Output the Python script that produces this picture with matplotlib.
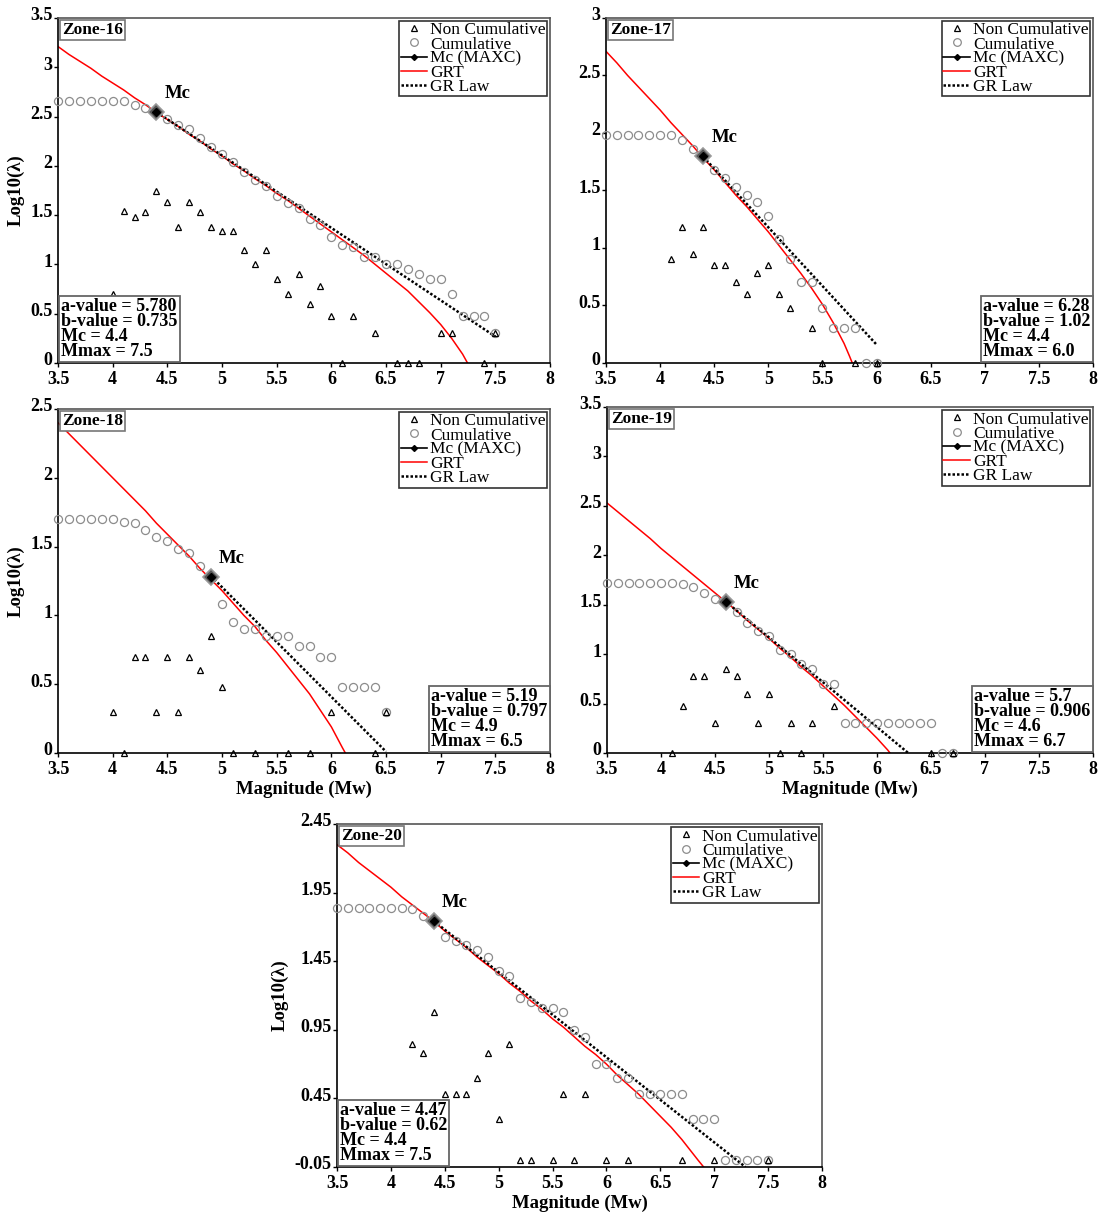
import matplotlib
matplotlib.use("Agg")
import matplotlib.pyplot as plt
import matplotlib.transforms as mtransforms
from matplotlib.lines import Line2D

plt.rcParams["font.family"] = ["Liberation Serif", "DejaVu Serif"]

MAGS = [3.5, 3.6, 3.7, 3.8, 3.9, 4.0, 4.1, 4.2, 4.3, 4.4, 4.5, 4.6, 4.7, 4.8,
        4.9, 5.0, 5.1, 5.2, 5.3, 5.4, 5.5, 5.6, 5.7, 5.8, 5.9, 6.0, 6.1, 6.2,
        6.3, 6.4, 6.5, 6.6, 6.7, 6.8, 6.9, 7.0, 7.1, 7.2, 7.3, 7.4, 7.5]

# ---- Zone-16
CUM_16 = [2.66, 2.66, 2.66, 2.66, 2.66, 2.66, 2.66, 2.62, 2.59, 2.55, 2.48,
          2.41, 2.37, 2.28, 2.19, 2.12, 2.04, 1.94, 1.86, 1.80, 1.69, 1.62,
          1.57, 1.46, 1.40, 1.28, 1.20, 1.18, 1.08, 1.08, 1.00, 1.00, 0.95,
          0.90, 0.85, 0.85, 0.70, 0.48, 0.48, 0.48, 0.30]
NC_MAG_16 = [4.0, 4.1, 4.2, 4.3, 4.4, 4.5, 4.6, 4.7, 4.8, 4.9, 5.0, 5.1, 5.2,
             5.3, 5.4, 5.5, 5.6, 5.7, 5.8, 5.9, 6.0, 6.1, 6.2, 6.4, 6.6, 6.7,
             6.8, 7.0, 7.1, 7.4, 7.5]
NC_16 = [0.70, 1.54, 1.48, 1.53, 1.74, 1.63, 1.38, 1.63, 1.53, 1.38, 1.34,
         1.34, 1.15, 1.00, 1.15, 0.85, 0.70, 0.90, 0.60, 0.78, 0.48, 0.0,
         0.48, 0.30, 0.0, 0.0, 0.0, 0.30, 0.30, 0.0, 0.30]
GRT_X_16 = MAGS[:38] + [7.245]
GRT_16 = [3.21, 3.13, 3.06, 2.99, 2.91, 2.84, 2.77, 2.69, 2.62, 2.54, 2.47,
          2.40, 2.32, 2.25, 2.17, 2.10, 2.02, 1.95, 1.87, 1.80, 1.72, 1.65,
          1.57, 1.49, 1.41, 1.33, 1.25, 1.17, 1.09, 1.00, 0.91, 0.82, 0.73,
          0.62, 0.51, 0.39, 0.25, 0.09, 0.0]
GR_X_16 = [4.4, 7.5]
GR_16 = [2.546, 0.268]
MC_16 = (4.4, 2.55)
STATS_16 = ["a-value = 5.780", "b-value = 0.735", "Mc = 4.4", "Mmax = 7.5"]

# ---- Zone-17
CUM_17 = [1.98, 1.98, 1.98, 1.98, 1.98, 1.98, 1.98, 1.94, 1.86, 1.80, 1.68,
          1.61, 1.53, 1.46, 1.40, 1.28, 1.08, 0.90, 0.70, 0.70, 0.48, 0.30,
          0.30, 0.30, 0.0, 0.0]
NC_MAG_17 = [4.1, 4.2, 4.3, 4.4, 4.5, 4.6, 4.7, 4.8, 4.9, 5.0, 5.1, 5.2, 5.4,
             5.5, 5.8, 6.0]
NC_17 = [0.90, 1.18, 0.95, 1.18, 0.85, 0.85, 0.70, 0.60, 0.78, 0.85, 0.60,
         0.48, 0.30, 0.0, 0.0, 0.0]
GRT_X_17 = MAGS[:23] + [5.75, 5.776]
GRT_17 = [2.71, 2.61, 2.50, 2.40, 2.30, 2.20, 2.09, 1.99, 1.89, 1.78, 1.68,
          1.57, 1.46, 1.36, 1.25, 1.14, 1.02, 0.90, 0.78, 0.65, 0.51, 0.35,
          0.17, 0.06, 0.0]
GR_X_17 = [4.4, 6.0]
GR_17 = [1.792, 0.160]
MC_17 = (4.4, 1.80)
STATS_17 = ["a-value = 6.28", "b-value = 1.02", "Mc = 4.4", "Mmax = 6.0"]

# ---- Zone-18
CUM_18 = [1.70, 1.70, 1.70, 1.70, 1.70, 1.70, 1.68, 1.67, 1.62, 1.57, 1.54,
          1.48, 1.45, 1.36, 1.28, 1.08, 0.95, 0.90, 0.90, 0.85, 0.85, 0.85,
          0.78, 0.78, 0.70, 0.70, 0.48, 0.48, 0.48, 0.48, 0.30]
NC_MAG_18 = [4.0, 4.1, 4.2, 4.3, 4.4, 4.5, 4.6, 4.7, 4.8, 4.9, 5.0, 5.1, 5.3,
             5.6, 5.8, 6.0, 6.4, 6.5]
NC_18 = [0.30, 0.0, 0.70, 0.70, 0.30, 0.70, 0.30, 0.70, 0.60, 0.85, 0.48,
         0.0, 0.0, 0.0, 0.0, 0.30, 0.0, 0.30]
GRT_X_18 = MAGS[:27] + [6.128]
GRT_18 = [2.40, 2.32, 2.24, 2.16, 2.08, 2.00, 1.92, 1.84, 1.76, 1.67, 1.59,
          1.51, 1.43, 1.34, 1.26, 1.18, 1.09, 1.00, 0.92, 0.82, 0.73, 0.63,
          0.53, 0.43, 0.31, 0.19, 0.04, 0.0]
GR_X_18 = [4.9, 6.5]
GR_18 = [1.285, 0.010]
MC_18 = (4.9, 1.28)
STATS_18 = ["a-value = 5.19", "b-value = 0.797", "Mc = 4.9", "Mmax = 6.5"]

# ---- Zone-19
CUM_19 = [1.72, 1.72, 1.72, 1.72, 1.72, 1.72, 1.72, 1.71, 1.68, 1.62, 1.56,
          1.53, 1.43, 1.32, 1.23, 1.18, 1.04, 1.00, 0.90, 0.85, 0.70, 0.70,
          0.30, 0.30, 0.30, 0.30, 0.30, 0.30, 0.30, 0.30, 0.30, 0.0, 0.0]
NC_MAG_19 = [4.1, 4.2, 4.3, 4.4, 4.5, 4.6, 4.7, 4.8, 4.9, 5.0, 5.1, 5.2, 5.3,
             5.4, 5.6, 6.5, 6.7]
NC_19 = [0.0, 0.48, 0.78, 0.78, 0.30, 0.85, 0.78, 0.60, 0.30, 0.60, 0.0,
         0.30, 0.0, 0.30, 0.48, 0.0, 0.0]
GRT_X_19 = MAGS[:27] + [6.121]
GRT_19 = [2.53, 2.44, 2.35, 2.26, 2.17, 2.07, 1.98, 1.89, 1.80, 1.71, 1.62,
          1.53, 1.44, 1.34, 1.25, 1.16, 1.06, 0.97, 0.87, 0.78, 0.68, 0.58,
          0.48, 0.37, 0.26, 0.15, 0.03, 0.0]
GR_X_19 = [4.6, 6.29]
GR_19 = [1.532, 0.0]
MC_19 = (4.6, 1.53)
STATS_19 = ["a-value = 5.7", "b-value = 0.906", "Mc = 4.6", "Mmax = 6.7"]

# ---- Zone-20
CUM_20 = [1.84, 1.84, 1.84, 1.84, 1.84, 1.84, 1.84, 1.83, 1.78, 1.74, 1.63,
          1.60, 1.57, 1.53, 1.48, 1.38, 1.34, 1.18, 1.15, 1.11, 1.11, 1.08,
          0.95, 0.90, 0.70, 0.70, 0.60, 0.60, 0.48, 0.48, 0.48, 0.48, 0.48,
          0.30, 0.30, 0.30, 0.0, 0.0, 0.0, 0.0, 0.0]
NC_MAG_20 = [4.17, 4.2, 4.3, 4.4, 4.5, 4.6, 4.7, 4.8, 4.9, 5.0, 5.1, 5.2, 5.3,
             5.5, 5.6, 5.7, 5.8, 6.0, 6.2, 6.7, 7.0, 7.5]
NC_20 = [0.40, 0.85, 0.78, 1.08, 0.48, 0.48, 0.48, 0.60, 0.78, 0.30, 0.85,
         0.0, 0.0, 0.0, 0.48, 0.0, 0.48, 0.0, 0.0, 0.0, 0.0, 0.0]
GRT_X_20 = MAGS[:34] + [6.85, 6.902]
GRT_20 = [2.30, 2.24, 2.17, 2.11, 2.05, 1.99, 1.92, 1.86, 1.80, 1.74, 1.67,
          1.61, 1.55, 1.48, 1.42, 1.36, 1.29, 1.23, 1.16, 1.10, 1.03, 0.97,
          0.90, 0.83, 0.77, 0.70, 0.62, 0.55, 0.48, 0.40, 0.32, 0.24, 0.15,
          0.05, 0.0, -0.05]
GR_X_20 = [4.4, 7.29]
GR_20 = [1.742, -0.05]
MC_20 = (4.4, 1.74)
STATS_20 = ["a-value = 4.47", "b-value = 0.62", "Mc = 4.4", "Mmax = 7.5"]

X_TICKS = [3.5, 4, 4.5, 5, 5.5, 6, 6.5, 7, 7.5, 8]

TICK_FS = 13
LAB_FS = 13.5


def draw_zone(fig, ax, name, cum, nc_mag, nc, grt_x, grt, gr_x, gr, mc, stats,
              yticks, stats_right=False, xlabel=True, ylabel=True):
    n = len(cum)
    ax.plot(MAGS[:n], cum, ls="none", marker="o", mfc="none", mec="#8c8c8c",
            mew=0.9, ms=5.8, zorder=3, clip_on=False)
    ax.plot(nc_mag, nc, ls="none", marker="^", mfc="none", mec="black",
            mew=0.9, ms=5, zorder=4, clip_on=False)
    ax.plot(grt_x, grt, color="red", lw=1.1, zorder=2)
    ax.plot(gr_x, gr, color="black", ls=(0, (1, 0.8)), lw=1.8, zorder=2)
    ax.plot(*mc, marker="D", ms=8.5, mfc="#555555", mec="#999999", mew=1.2, zorder=6)
    ax.plot(*mc, marker="D", ms=4, color="black", zorder=7)
    ax.annotate("Mc", mc, xytext=(8, 10), textcoords="offset pixels",
                fontsize=LAB_FS, fontweight="bold", ha="left", va="bottom")

    ax.set_xlim(3.5, 8)
    ax.set_ylim(yticks[0], yticks[-1])
    ax.set_xticks(X_TICKS)
    ax.set_xticklabels([f"{t:g}" for t in X_TICKS])
    ax.set_yticks(yticks)
    ax.set_yticklabels([f"{t:g}" for t in yticks])
    ax.tick_params(labelsize=TICK_FS, length=3, width=1, direction="out")
    ax.tick_params(axis="x", pad=2.5)
    ax.tick_params(axis="y", pad=1)
    # y labels sit a little above their ticks, as in the source figure
    lift = mtransforms.ScaledTranslation(0, 3 / 72, fig.dpi_scale_trans)
    for lab in ax.get_yticklabels():
        lab.set_transform(lab.get_transform() + lift)
    for lab in ax.get_xticklabels() + ax.get_yticklabels():
        lab.set_fontweight("bold")
    for side in ("left", "bottom"):
        ax.spines[side].set_color("black")
        ax.spines[side].set_linewidth(1.2)
    for side in ("top", "right"):
        ax.spines[side].set_color("#555555")
        ax.spines[side].set_linewidth(1.2)

    if xlabel:
        ax.set_xlabel("Magnitude (Mw)", fontsize=LAB_FS, fontweight="bold", labelpad=2)
    if ylabel:
        ax.set_ylabel("Log10(λ)", fontsize=LAB_FS, fontweight="bold", labelpad=4)

    ax.text(0.008, 0.988, name, transform=ax.transAxes, ha="left", va="top",
            fontsize=12.5, fontweight="bold", zorder=8,
            bbox=dict(boxstyle="square,pad=0.12", fc="white", ec="#777777", lw=1.2))

    x0, ha = (0.995, "right") if stats_right else (0.006, "left")
    ax.text(x0, 0.008, "\n".join(stats), transform=ax.transAxes, ha=ha,
            va="bottom", multialignment="left", fontsize=13, fontweight="bold",
            linespacing=0.86, zorder=8,
            bbox=dict(boxstyle="square,pad=0.12", fc="white", ec="#666666", lw=1.3))

    handles = [
        Line2D([], [], ls="none", marker="^", mfc="none", mec="black", mew=0.9, ms=5),
        Line2D([], [], ls="none", marker="o", mfc="none", mec="#8c8c8c", mew=0.9, ms=5.5),
        Line2D([], [], color="black", lw=1.2, marker="D", ms=3),
        Line2D([], [], color="red", lw=1.1),
        Line2D([], [], color="black", ls=(0, (1, 0.8)), lw=1.8),
    ]
    labels = ["Non Cumulative", "Cumulative", "Mc (MAXC)", "GRT", "GR Law"]
    leg = ax.legend(handles, labels, loc="upper right", fontsize=12.5,
                    frameon=True, fancybox=False, borderaxespad=0.15,
                    borderpad=0.1, labelspacing=-0.12, handlelength=1.5,
                    handletextpad=0.2)
    leg.get_frame().set_edgecolor("black")
    leg.get_frame().set_linewidth(1.2)
    leg.set_zorder(9)


fig = plt.figure(figsize=(11.01, 12.14), dpi=100)

ax16 = fig.add_axes([0.0527, 0.7010, 0.4469, 0.2842])
draw_zone(fig, ax16, "Zone-16", CUM_16, NC_MAG_16, NC_16, GRT_X_16, GRT_16,
          GR_X_16, GR_16, MC_16, STATS_16, [0, 0.5, 1, 1.5, 2, 2.5, 3, 3.5],
          xlabel=False)

ax17 = fig.add_axes([0.5504, 0.7010, 0.4423, 0.2842])
draw_zone(fig, ax17, "Zone-17", CUM_17, NC_MAG_17, NC_17, GRT_X_17, GRT_17,
          GR_X_17, GR_17, MC_17, STATS_17, [0, 0.5, 1, 1.5, 2, 2.5, 3],
          stats_right=True, xlabel=False, ylabel=False)

ax18 = fig.add_axes([0.0527, 0.3797, 0.4469, 0.2834])
draw_zone(fig, ax18, "Zone-18", CUM_18, NC_MAG_18, NC_18, GRT_X_18, GRT_18,
          GR_X_18, GR_18, MC_18, STATS_18, [0, 0.5, 1, 1.5, 2, 2.5],
          stats_right=True)

ax19 = fig.add_axes([0.5513, 0.3797, 0.4414, 0.2850])
draw_zone(fig, ax19, "Zone-19", CUM_19, NC_MAG_19, NC_19, GRT_X_19, GRT_19,
          GR_X_19, GR_19, MC_19, STATS_19, [0, 0.5, 1, 1.5, 2, 2.5, 3, 3.5],
          stats_right=True, ylabel=False)

ax20 = fig.add_axes([0.3061, 0.0387, 0.4405, 0.2825])
draw_zone(fig, ax20, "Zone-20", CUM_20, NC_MAG_20, NC_20, GRT_X_20, GRT_20,
          GR_X_20, GR_20, MC_20, STATS_20, [-0.05, 0.45, 0.95, 1.45, 1.95, 2.45])

fig.savefig("out.png", dpi=100)
